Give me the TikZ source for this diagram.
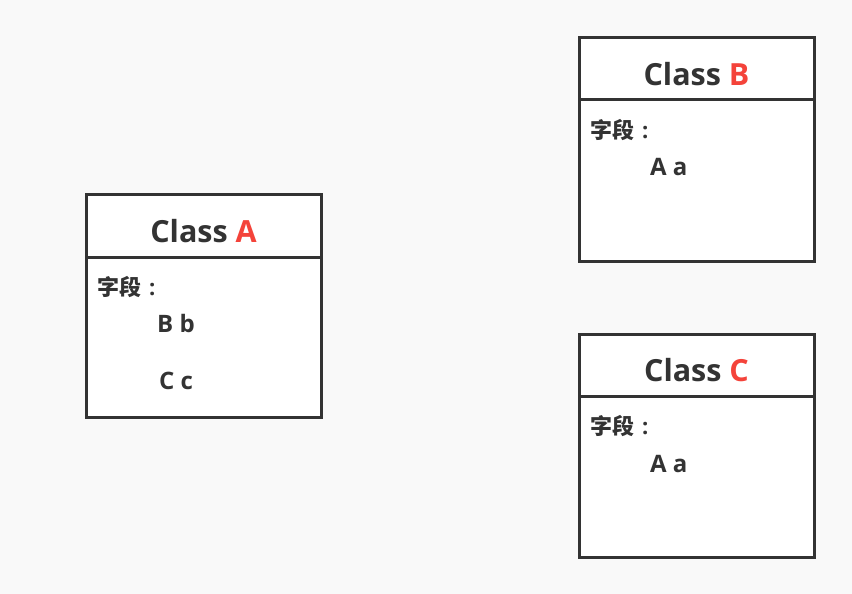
\documentclass[tikz,border=0pt]{standalone}
\usepackage{fontspec}
\setmainfont{Open Sans}
\newfontfamily\cjkfont{Noto Sans CJK SC}
\definecolor{ink}{HTML}{333333}
\definecolor{accent}{HTML}{F4433A}
\definecolor{bg}{HTML}{F9F9F9}
\newcommand{\fieldlabel}{{\cjkfont\bfseries 字段}\hspace{8pt}{\bfseries :}}
\begin{document}
\begin{tikzpicture}[x=1pt,y=-1pt,
  classbox/.style={draw=ink,line width=3pt,fill=white},
  divider/.style={draw=ink,line width=3pt},
  title/.style={inner sep=0pt,anchor=base,text=ink,font=\fontsize{30.5}{30}\selectfont\bfseries},
  label/.style={inner sep=0pt,anchor=base west,text=ink,font=\fontsize{22}{22}\selectfont},
  field/.style={inner sep=0pt,anchor=base west,text=ink,font=\fontsize{24}{24}\selectfont\bfseries}]
\fill[bg] (0,0) rectangle (852,594);
\useasboundingbox (0,0) rectangle (852,594);
% Class A
\draw[classbox] (86,194) rectangle (321,417);
\draw[divider] (86,257) -- (321,257);
\node[title] (ta) at (203.5,242) {Class \textcolor{accent}{A}};
\node[label] (la) at (97,295) {\fieldlabel};
\node[field] (fa1) at (157,332) {B b};
\node[field] (fa2) at (159,389) {C c};
% Class B
\draw[classbox] (579,38) rectangle (814,261);
\draw[divider] (579,100) -- (814,100);
\node[title] (tb) at (696.5,85) {Class \textcolor{accent}{B}};
\node[label] (lb) at (590,138) {\fieldlabel};
\node[field] (fb1) at (650,175) {A a};
% Class C
\draw[classbox] (579,334) rectangle (814,557);
\draw[divider] (579,396) -- (814,396);
\node[title] (tc) at (696.5,381) {Class \textcolor{accent}{C}};
\node[label] (lc) at (590,434) {\fieldlabel};
\node[field] (fc1) at (650,472) {A a};
\end{tikzpicture}
\end{document}
